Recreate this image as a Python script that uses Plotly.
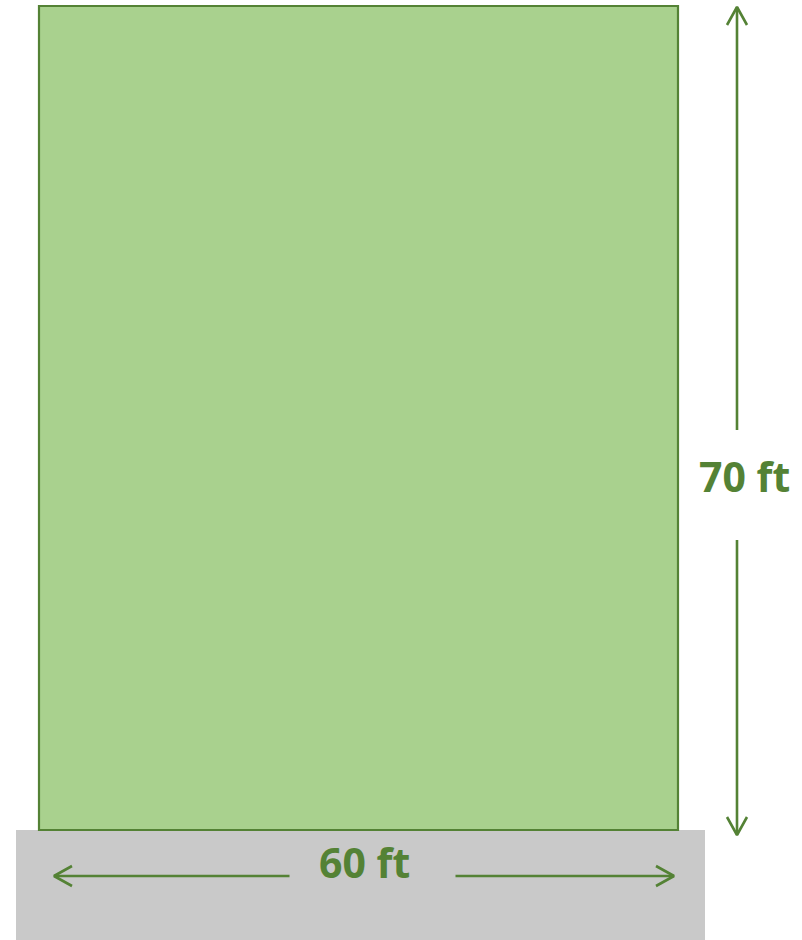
import plotly.graph_objects as go

# ---- data ----
lot_width_ft = 60
lot_depth_ft = 70
dimension_labels = [f"{lot_width_ft} ft", f"{lot_depth_ft} ft"]

# ---- style ----
GREEN_FILL = "#A9D18E"
GREEN_LINE = "#548235"
STREET = "#C9C9C9"
W, H = 802, 940

# pixel placement of the lot (left, right, top, bottom)
PX_L, PX_R, PX_T, PX_B = 39, 678, 6, 830
sx = (PX_R - PX_L) / lot_width_ft   # px per ft horizontally
sy = (PX_B - PX_T) / lot_depth_ft   # px per ft vertically

def dx(px):
    return px / sx

def dy(px):
    return px / sy

x_range = [-dx(PX_L), dx(W - PX_L)]
y_range = [-dy(H - PX_B), dy(PX_B)]

fig = go.Figure()

# street strip below the lot
fig.add_shape(type="rect", xref="x", yref="y",
              x0=-dx(23), x1=lot_width_ft + dx(27),
              y0=y_range[0] - 1, y1=0,
              fillcolor=STREET, line=dict(width=0), layer="below")
# lot
fig.add_shape(type="rect", xref="x", yref="y",
              x0=0, x1=lot_width_ft, y0=0, y1=lot_depth_ft,
              fillcolor=GREEN_FILL, line=dict(color=GREEN_LINE, width=2.2), layer="below")

def seg(xs, ys):
    fig.add_trace(go.Scatter(x=xs, y=ys, mode="lines",
                             line=dict(color=GREEN_LINE, width=2.6),
                             hoverinfo="skip", showlegend=False, cliponaxis=False))

AL, AW = 18, 10  # arrowhead length / half width in px

# vertical dimension arrow (depth)
vx = lot_width_ft + dx(59)
top_tip = lot_depth_ft - dy(1)
bot_tip = -dy(5)
mid_y = lot_depth_ft / 2 + dy(-62)
gap_mid = mid_y - dy(5)
gap_v = dy(55)
seg([vx, vx], [top_tip, gap_mid + gap_v])
seg([vx, vx], [gap_mid - gap_v, bot_tip])
seg([vx - dx(AW), vx, vx + dx(AW)], [top_tip - dy(AL), top_tip, top_tip - dy(AL)])
seg([vx - dx(AW), vx, vx + dx(AW)], [bot_tip + dy(AL), bot_tip, bot_tip + dy(AL)])

# horizontal dimension arrow (width)
hy = -dy(46)
l_tip = dx(15)
r_tip = lot_width_ft - dx(4)
mid_x = lot_width_ft / 2 + dx(14)
gap_h = dx(83)
seg([l_tip, mid_x - gap_h], [hy, hy])
seg([mid_x + gap_h, r_tip], [hy, hy])
seg([l_tip + dx(AL), l_tip, l_tip + dx(AL)], [hy + dy(AW), hy, hy - dy(AW)])
seg([r_tip - dx(AL), r_tip, r_tip - dx(AL)], [hy + dy(AW), hy, hy - dy(AW)])

font = dict(family="Open Sans", size=41, color=GREEN_LINE, weight="bold")
fig.add_annotation(x=mid_x - dx(8), y=-dy(32), text=f"<b>{dimension_labels[0]}</b>",
                   showarrow=False, font=font, xanchor="center", yanchor="middle")
fig.add_annotation(x=vx + dx(7), y=mid_y + dy(4), text=f"<b>{dimension_labels[1]}</b>",
                   showarrow=False, font=font, xanchor="center", yanchor="middle")

fig.update_xaxes(range=x_range, visible=False, fixedrange=True)
fig.update_yaxes(range=y_range, visible=False, fixedrange=True)
fig.update_layout(width=W, height=H, margin=dict(l=0, r=0, t=0, b=0),
                  paper_bgcolor="white", plot_bgcolor="white", hovermode=False)

fig.write_html("out.html", config={"displayModeBar": False, "staticPlot": True},
               post_script="document.body.style.margin='0';document.body.style.overflow='hidden';")
